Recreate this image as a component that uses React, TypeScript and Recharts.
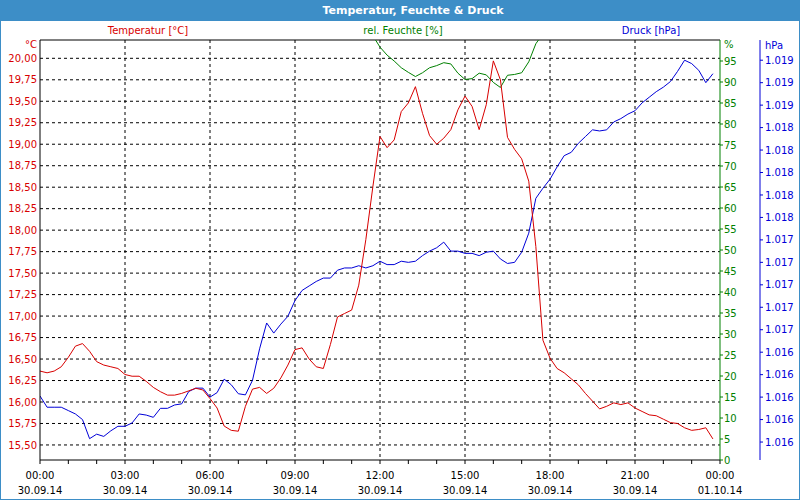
import React from "react";
import {
  CartesianGrid,
  ComposedChart,
  Line,
  ReferenceLine,
  XAxis,
  YAxis,
} from "recharts";

// sample times in hours after 30.09.14 00:00 (every 15 min)
const hours: number[] = Array.from({ length: 97 }, (_, i) => i / 4);

// Temperatur [°C]
const temperature: (number | null)[] = [
  // 00:00 - 06:00
  16.36, 16.34, 16.36, 16.41, 16.52, 16.65, 16.68, 16.59, 16.47, 16.43, 16.41, 16.39,
  16.32, 16.3, 16.3, 16.24, 16.17, 16.12, 16.08, 16.08, 16.1, 16.13, 16.16, 16.14, 16.04,
  // 06:15 - 12:00
  15.93, 15.72, 15.67, 15.66, 15.95, 16.15, 16.17, 16.1, 16.16, 16.28, 16.43, 16.61,
  16.63, 16.5, 16.41, 16.39, 16.67, 16.99, 17.03, 17.07, 17.36, 17.89, 18.51, 19.09,
  // 12:15 - 18:00
  18.96, 19.05, 19.38, 19.48, 19.67, 19.36, 19.1, 19.0, 19.07, 19.17, 19.4, 19.56,
  19.44, 19.17, 19.46, 19.97, 19.75, 19.08, 18.94, 18.83, 18.57, 17.81, 16.72, 16.51,
  // 18:15 - 24:00
  16.39, 16.34, 16.27, 16.2, 16.1, 16.01, 15.92, 15.95, 15.99, 15.97, 15.99, 15.93,
  15.89, 15.85, 15.84, 15.8, 15.76, 15.75, 15.7, 15.67, 15.68, 15.7, 15.57, null,
];

// rel. Feuchte [%] (above 100 % it runs off the top of the plot)
const humidity: (number | null)[] = [
  ...Array(47).fill(null),
  101.0,
  98.3, 96.4, 95.0, 93.4, 92.3, 91.3, 92.2, 93.4, 93.9, 94.6, 94.3, 92.1,
  90.6, 90.8, 92.1, 91.7, 89.9, 88.7, 91.6, 91.8, 92.2, 94.8, 99.1, 101.5,
  ...Array(25).fill(null),
];

// Druck [hPa]
const pressure: (number | null)[] = [
  // 00:00 - 06:00
  1016.01, 1015.91, 1015.91, 1015.91, 1015.88, 1015.85, 1015.8, 1015.63, 1015.67, 1015.65,
  1015.7, 1015.74, 1015.74, 1015.77, 1015.85, 1015.84, 1015.82, 1015.9, 1015.9, 1015.93,
  1015.94, 1016.05, 1016.08, 1016.08, 1016.0,
  // 06:15 - 12:00
  1016.04, 1016.16, 1016.11, 1016.03, 1016.02, 1016.15, 1016.43, 1016.66, 1016.57, 1016.65,
  1016.72, 1016.86, 1016.95, 1016.99, 1017.03, 1017.06, 1017.06, 1017.13, 1017.15, 1017.15,
  1017.17, 1017.15, 1017.17, 1017.21,
  // 12:15 - 18:00
  1017.18, 1017.18, 1017.21, 1017.2, 1017.21, 1017.26, 1017.3, 1017.33, 1017.38, 1017.3,
  1017.3, 1017.28, 1017.28, 1017.26, 1017.29, 1017.3, 1017.23, 1017.19, 1017.2, 1017.29,
  1017.46, 1017.77, 1017.86, 1017.94,
  // 18:15 - 24:00
  1018.05, 1018.15, 1018.18, 1018.26, 1018.32, 1018.38, 1018.37, 1018.38, 1018.45, 1018.48,
  1018.52, 1018.55, 1018.62, 1018.67, 1018.72, 1018.76, 1018.81, 1018.9, 1019.0, 1018.97,
  1018.91, 1018.8, 1018.88, null,
];

// axis ticks
const timeTicks = [0, 1, 2, 3, 4, 5, 6, 7, 8, 9, 10, 11, 12, 13, 14, 15, 16, 17, 18, 19, 20, 21, 22, 23, 24];
const timeGrid = [3, 6, 9, 12, 15, 18, 21];
const timeLabels = ["00:00", "03:00", "06:00", "09:00", "12:00", "15:00", "18:00", "21:00", "00:00"];
const dateLabels = ["30.09.14", "30.09.14", "30.09.14", "30.09.14", "30.09.14", "30.09.14", "30.09.14", "30.09.14", "01.10.14"];
const tempTicks = [15.5, 15.75, 16, 16.25, 16.5, 16.75, 17, 17.25, 17.5, 17.75, 18, 18.25, 18.5, 18.75, 19, 19.25, 19.5, 19.75, 20];
const humTicks = [0, 5, 10, 15, 20, 25, 30, 35, 40, 45, 50, 55, 60, 65, 70, 75, 80, 85, 90, 95];
const presTicks = [
  1015.6, 1015.8, 1016.0, 1016.2, 1016.4, 1016.6, 1016.8, 1017.0, 1017.2, 1017.4,
  1017.6, 1017.8, 1018.0, 1018.2, 1018.4, 1018.6, 1018.8, 1019.0,
];

const TEMP_DOMAIN: [number, number] = [15.325, 20.213];
const HUM_DOMAIN: [number, number] = [0, 100];
const PRES_DOMAIN: [number, number] = [1015.44, 1019.18];

const RED = "#d80000";
const GREEN = "#008000";
const BLUE = "#0000d8";
const FONT = "'DejaVu Sans', Verdana, sans-serif";

const data = hours.map((t, i) => ({
  t,
  temp: temperature[i],
  hum: humidity[i],
  pres: pressure[i],
}));

const TimeTick = (props: any) => {
  const { x, payload } = props;
  const v = payload.value as number;
  if (v % 3 !== 0) return null;
  const idx = v / 3;
  return (
    <text x={x} y={0} textAnchor="middle" fontSize={10} fontFamily={FONT} fill="#000">
      <tspan x={x} y={479}>{timeLabels[idx]}</tspan>
      <tspan x={x} y={494}>{dateLabels[idx]}</tspan>
    </text>
  );
};

const fmtTemp = (v: number) => v.toFixed(2).replace(".", ",");
const fmtPres = (v: number) => {
  const s = String(Math.round(v));
  return s.slice(0, 1) + "." + s.slice(1);
};

const overlayText = (
  text: string,
  cx: number,
  cy: number,
  color: string,
  align: "center" | "left" | "right" = "center"
) => {
  const style: React.CSSProperties = {
    position: "absolute",
    top: cy - 7,
    height: 14,
    lineHeight: "14px",
    fontFamily: FONT,
    fontSize: 10,
    color,
    whiteSpace: "nowrap",
  };
  if (align === "center") {
    style.left = cx - 100;
    style.width = 200;
    style.textAlign = "center";
  } else if (align === "left") {
    style.left = cx;
  } else {
    style.left = cx - 100;
    style.width = 100;
    style.textAlign = "right";
  }
  return (
    <div key={text} style={style}>
      {text}
    </div>
  );
};

export default function App() {
  return (
    <div
      style={{
        position: "absolute",
        left: 0,
        top: 0,
        width: 800,
        height: 500,
        boxSizing: "border-box",
        border: "1px solid #3d8ec7",
        background: "#fff",
        overflow: "hidden",
      }}
    >
      <div style={{ position: "absolute", left: -1, top: -1 }}>
        <ComposedChart
          width={800}
          height={500}
          data={data}
          margin={{ top: 40, right: 0, bottom: 0, left: 0 }}
        >
          <CartesianGrid
            yAxisId="temp"
            stroke="#000"
            strokeDasharray="3 3"
            horizontalValues={tempTicks}
            verticalValues={timeGrid}
          />
          <XAxis
            dataKey="t"
            type="number"
            domain={[0, 24]}
            ticks={timeTicks}
            interval={0}
            height={40}
            allowDataOverflow
            axisLine={{ stroke: "#000" }}
            tickLine={{ stroke: "#000" }}
            tickSize={4}
            tickMargin={2}
            tick={<TimeTick />}
          />
          <YAxis
            yAxisId="temp"
            orientation="left"
            width={40}
            domain={TEMP_DOMAIN}
            ticks={tempTicks}
            allowDataOverflow
            interval={0}
            axisLine={{ stroke: "#000" }}
            tickLine={false}
            tickSize={1}
            tickMargin={2}
            tickFormatter={fmtTemp}
            tick={{ fill: RED, fontSize: 10, fontFamily: FONT }}
          />
          <YAxis
            yAxisId="hum"
            orientation="right"
            width={40}
            domain={HUM_DOMAIN}
            ticks={humTicks}
            allowDataOverflow
            interval={0}
            axisLine={{ stroke: GREEN }}
            tickLine={{ stroke: GREEN }}
            tickSize={3}
            tickMargin={1}
            tick={{ fill: GREEN, fontSize: 10, fontFamily: FONT }}
          />
          <YAxis
            yAxisId="pres"
            orientation="right"
            width={40}
            domain={PRES_DOMAIN}
            ticks={presTicks}
            allowDataOverflow
            interval={0}
            axisLine={{ stroke: BLUE }}
            tickLine={{ stroke: BLUE }}
            tickSize={3}
            tickMargin={2}
            tickFormatter={fmtPres}
            tick={{ fill: BLUE, fontSize: 10, fontFamily: FONT }}
          />
          <ReferenceLine yAxisId="temp" y={TEMP_DOMAIN[1]} stroke="#000" ifOverflow="visible" />
          <Line
            yAxisId="pres"
            dataKey="pres"
            type="linear"
            stroke={BLUE}
            strokeWidth={1}
            dot={false}
            activeDot={false}
            isAnimationActive={false}
          />
          <Line
            yAxisId="hum"
            dataKey="hum"
            type="linear"
            stroke={GREEN}
            strokeWidth={1}
            dot={false}
            activeDot={false}
            isAnimationActive={false}
          />
          <Line
            yAxisId="temp"
            dataKey="temp"
            type="linear"
            stroke={RED}
            strokeWidth={1}
            dot={false}
            activeDot={false}
            isAnimationActive={false}
          />
        </ComposedChart>
      </div>

      {/* title bar */}
      <div
        style={{
          position: "absolute",
          left: -1,
          top: -1,
          width: 800,
          height: 21,
          background: "#3d8ec7",
          color: "#fff",
          fontFamily: FONT,
          fontWeight: "bold",
          fontSize: 11,
          lineHeight: "21px",
        }}
      >
        <div style={{ position: "absolute", left: 313, width: 200, textAlign: "center" }}>
          Temperatur, Feuchte &amp; Druck
        </div>
      </div>

      {/* series headers and units */}
      <div style={{ position: "absolute", left: -1, top: -1 }}>
        {overlayText("Temperatur [°C]", 148, 31, RED)}
        {overlayText("rel. Feuchte [%]", 403, 31, GREEN)}
        {overlayText("Druck [hPa]", 651, 31, BLUE)}
        {overlayText("°C", 37, 45, RED, "right")}
        {overlayText("%", 724, 45, GREEN, "left")}
        {overlayText("hPa", 765, 46, BLUE, "left")}
      </div>
    </div>
  );
}
